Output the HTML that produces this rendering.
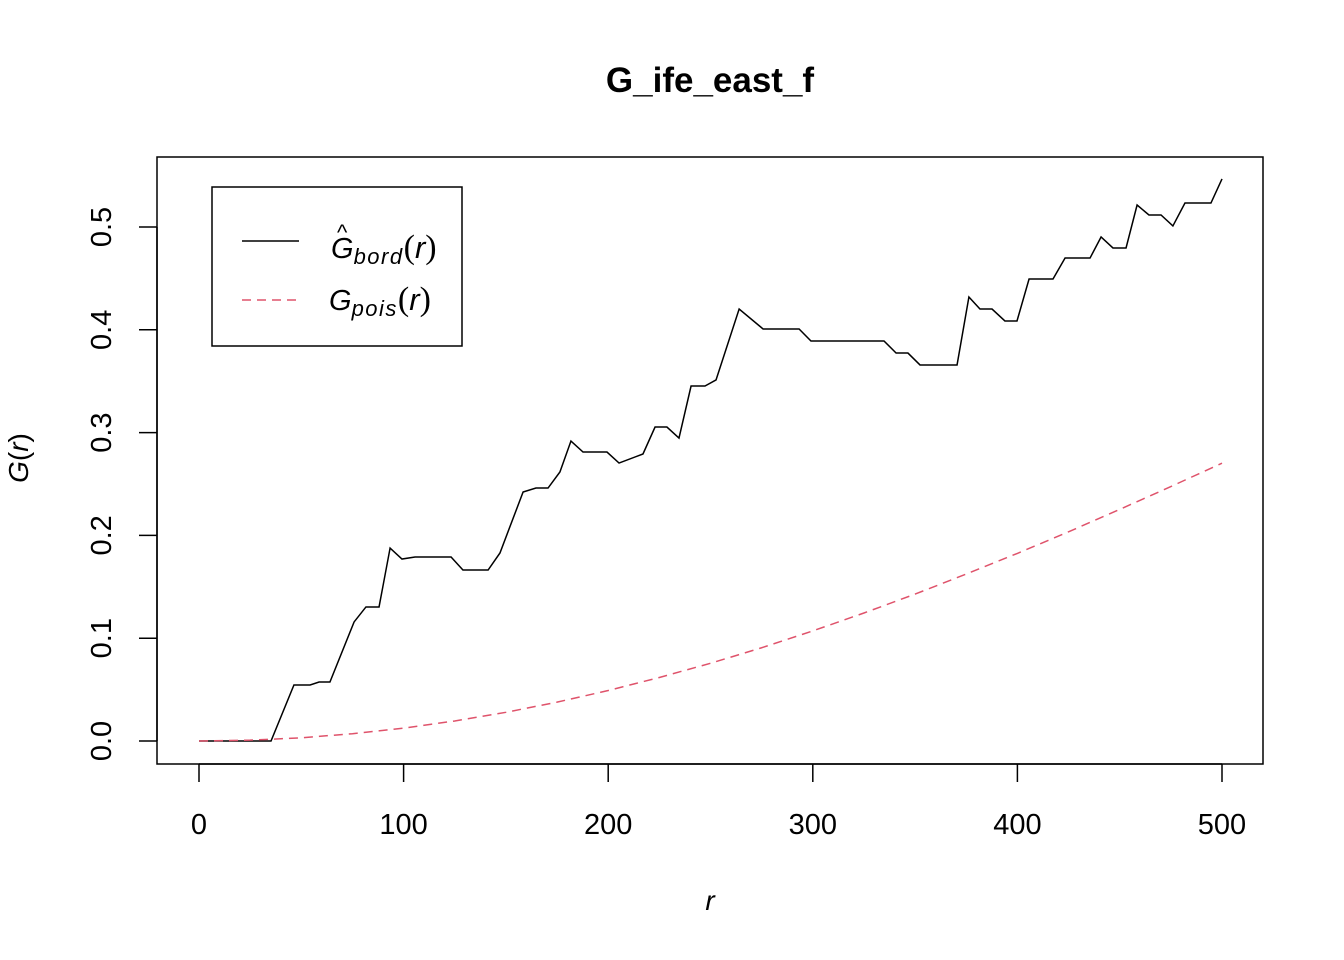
<!DOCTYPE html>
<html><head><meta charset="utf-8"><style>
body{margin:0;background:#fff}
svg{display:block;font-family:"Liberation Sans",Arial,sans-serif}
</style></head><body>
<svg id="chart" width="1344" height="960" viewBox="0 0 1344 960">
<rect width="1344" height="960" fill="#fff"/>
<text x="710" y="92" text-anchor="middle" font-size="35" font-weight="bold">G_ife_east_f</text>
<rect x="157" y="157" width="1106" height="607" fill="none" stroke="#000" stroke-width="1.5"/>
<g id="xaxis"></g>
<g id="yaxis"></g>
<text x="710" y="910" text-anchor="middle" font-size="28" font-style="italic">r</text>
<text transform="translate(28,458) rotate(-90)" text-anchor="middle" font-size="28"><tspan font-style="italic">G</tspan>(<tspan font-style="italic">r</tspan>)</text>
<g id="series"></g>
<g>
<rect x="212" y="187" width="250" height="159" fill="#fff" stroke="#000" stroke-width="1.5"/>
<line x1="242" y1="241" x2="299" y2="241" stroke="#000" stroke-width="1.5"/>
<text x="331" y="258" font-size="29"><tspan font-style="italic">G</tspan><tspan font-size="22" font-style="italic" dy="6" letter-spacing="1.5">bord</tspan><tspan dy="-6" font-size="34" font-family="Liberation Serif, serif">(</tspan><tspan font-style="italic" font-size="31">r</tspan><tspan font-size="34" font-family="Liberation Serif, serif">)</tspan></text>
<text x="337" y="240" font-size="22">^</text>
<line x1="242" y1="300" x2="299" y2="300" stroke="#DF536B" stroke-width="1.5" stroke-dasharray="9,6"/>
<text x="329" y="310" font-size="29"><tspan font-style="italic">G</tspan><tspan font-size="22" font-style="italic" dy="6" letter-spacing="1.5">pois</tspan><tspan dy="-6" font-size="34" font-family="Liberation Serif, serif">(</tspan><tspan font-style="italic" font-size="31">r</tspan><tspan font-size="34" font-family="Liberation Serif, serif">)</tspan></text>
</g>
</svg>
<script>
const xTicks=[0,100,200,300,400,500];
const yTicks=[0,0.1,0.2,0.3,0.4,0.5];
const yTickLabels=["0.0","0.1","0.2","0.3","0.4","0.5"];
const bordR=[0,35.2,46.4,54.3,58.7,64,75.8,81.6,88,93.4,99.2,105.6,123.2,129,141.3,147.1,158.4,164.7,170.6,176.4,181.8,187.7,199.4,205.3,217,222.9,228.7,234.6,240.5,247.3,252.7,264,275.7,293.3,299.1,334.8,340.7,346.5,352.4,370.5,376.3,381.7,387.6,393.9,399.8,405.7,417.4,423.3,435.5,440.9,446.7,453.1,458.5,464.3,470.2,476,481.9,494.6,500];
const bordG=[0,0,0.0545,0.0545,0.0574,0.0574,0.1158,0.1304,0.1304,0.1877,0.177,0.179,0.179,0.1663,0.1663,0.1829,0.2422,0.2461,0.2461,0.2617,0.2918,0.2811,0.2811,0.2704,0.2792,0.3054,0.3054,0.2947,0.3453,0.3453,0.3512,0.4202,0.4008,0.4008,0.3891,0.3891,0.3774,0.3774,0.3658,0.3658,0.4319,0.4202,0.4202,0.4086,0.4086,0.4494,0.4494,0.4698,0.4698,0.4903,0.4796,0.4796,0.5214,0.5117,0.5117,0.501,0.5233,0.5233,0.5467];
const poisR=[0,25,50,75,100,125,150,175,200,225,250,275,300,325,350,375,400,425,450,475,500];
const poisG=[0,0.0008,0.0031,0.0071,0.0125,0.0195,0.0279,0.0378,0.0491,0.0618,0.0756,0.0907,0.1071,0.1245,0.1429,0.1624,0.1825,0.2035,0.2253,0.2475,0.2703];
const NS="http://www.w3.org/2000/svg";
const sx=v=>199+v*(1222-199)/500;
const sy=v=>741-v*(741-227)/0.5;
function mk(tag,attrs,parent){const e=document.createElementNS(NS,tag);for(const k in attrs)e.setAttribute(k,attrs[k]);parent.appendChild(e);return e;}
const xa=document.getElementById('xaxis'),ya=document.getElementById('yaxis'),sg=document.getElementById('series');
mk('line',{x1:sx(0),x2:sx(500),y1:764,y2:764,stroke:'#000','stroke-width':1.5},xa);
xTicks.forEach(t=>{
 const l=mk('line',{x1:sx(t),x2:sx(t),y1:764,y2:782,stroke:'#000','stroke-width':1.5},xa);
 
 
 const tx=mk('text',{x:sx(t),y:834,'text-anchor':'middle','font-size':29},xa);
 tx.textContent=t;
 
 
});
mk('line',{x1:157,x2:157,y1:sy(0),y2:sy(0.5),stroke:'#000','stroke-width':1.5},ya);
yTicks.forEach((t,i)=>{
 const l=mk('line',{x1:139,x2:157,y1:sy(t),y2:sy(t),stroke:'#000','stroke-width':1.5},ya);
 
 
 const tx=mk('text',{transform:`translate(111,${sy(t)}) rotate(-90)`,'text-anchor':'middle','font-size':29},ya);
 tx.textContent=yTickLabels[i];
 
 
});
const p1=mk('polyline',{points:bordR.map((r,i)=>sx(r)+','+sy(bordG[i])).join(' '),fill:'none',stroke:'#000','stroke-width':1.5},sg);


const p2=mk('polyline',{points:poisR.map((r,i)=>sx(r)+','+sy(poisG[i])).join(' '),fill:'none',stroke:'#DF536B','stroke-width':1.5,'stroke-dasharray':'9,6'},sg);


</script>
</body></html>
